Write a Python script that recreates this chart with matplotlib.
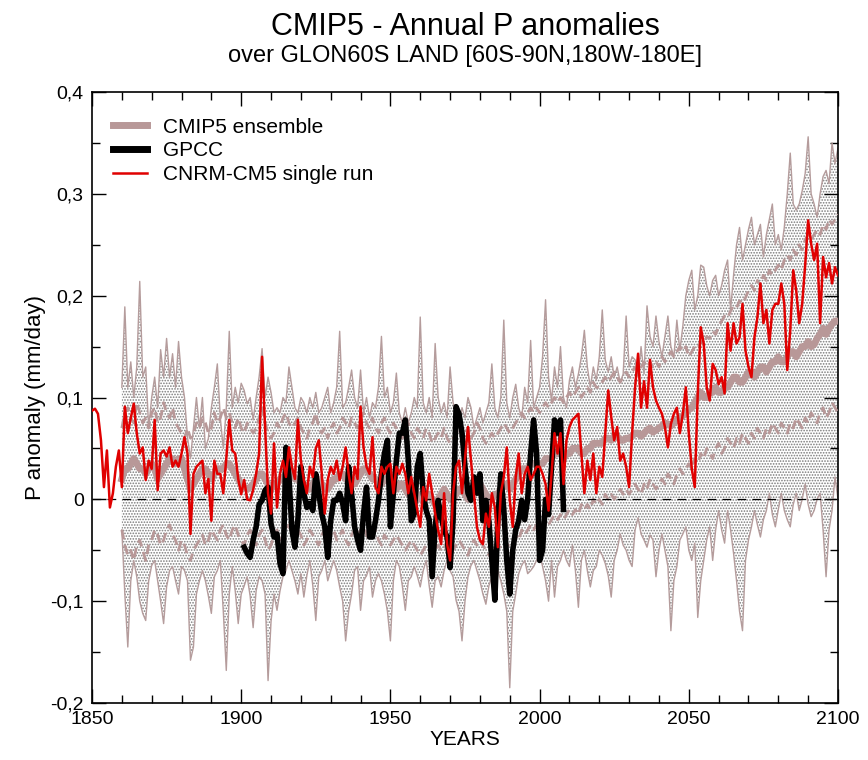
import numpy as np
import matplotlib
matplotlib.use('Agg')
import matplotlib.pyplot as plt
from matplotlib.ticker import MultipleLocator, FuncFormatter

plt.rcParams['font.family'] = ['Liberation Sans', 'DejaVu Sans']
plt.rcParams['hatch.linewidth'] = 0.8

# CNRM-CM5 single run, 1850-2100 (mm/day)
cnrm = [
    0.087, 0.089, 0.084, 0.058, 0.012, 0.048, -0.008, 0.006, 0.032, 0.048,
    0.012, 0.091, 0.065, 0.080, 0.094, 0.065, 0.045, 0.051, 0.019, 0.038,
    0.030, 0.078, 0.009, 0.045, 0.048, 0.042, 0.051, 0.032, 0.038, 0.032,
    0.045, 0.061, 0.045, -0.034, 0.025, 0.032, 0.035, 0.038, 0.006, 0.020,
    -0.021, 0.038, 0.025, 0.025, 0.006, 0.040, 0.078, 0.048, 0.045, 0.020,
    0.005, 0.019, 0.000, -0.001, 0.009, 0.025, 0.045, 0.140, 0.071, 0.006,
    -0.014, 0.055, -0.008, 0.025, 0.038, 0.022, 0.051, 0.032, 0.020, 0.078,
    0.038, 0.019, 0.006, 0.032, 0.022, 0.050, 0.058, 0.025, -0.014, 0.019,
    0.032, 0.025, 0.038, 0.019, 0.032, 0.051, 0.025, 0.006, 0.032, 0.020,
    0.091, 0.051, 0.032, 0.025, 0.061, 0.012, 0.006, 0.032, 0.025, 0.032,
    0.035, 0.006, 0.032, 0.025, 0.035, 0.025, 0.006, 0.022, 0.006, -0.010,
    -0.027, 0.012, -0.001, 0.025, 0.006, -0.014, -0.030, -0.044, 0.006, -0.044,
    -0.060, 0.006, 0.032, 0.038, 0.006, 0.040, 0.071, 0.038, 0.006, -0.027,
    -0.040, -0.044, -0.014, -0.027, 0.006, -0.008, -0.047, 0.006, 0.022, 0.051,
    -0.001, -0.027, 0.022, 0.045, 0.006, 0.025, 0.032, 0.019, 0.025, 0.032,
    0.032, 0.025, 0.015, -0.011, 0.025, 0.065, 0.045, 0.065, 0.015, 0.058,
    0.071, 0.078, 0.081, 0.084, 0.045, 0.006, 0.038, 0.019, 0.045, 0.006,
    0.032, 0.022, 0.065, 0.107, 0.081, 0.058, 0.071, 0.038, 0.045, 0.032,
    0.012, 0.065, 0.110, 0.143, 0.090, 0.116, 0.090, 0.137, 0.110, 0.097,
    0.090, 0.084, 0.071, 0.051, 0.074, 0.084, 0.090, 0.065, 0.084, 0.110,
    0.065, 0.030, 0.012, 0.104, 0.169, 0.153, 0.110, 0.097, 0.133, 0.127,
    0.113, 0.120, 0.104, 0.173, 0.146, 0.173, 0.153, 0.159, 0.192, 0.146,
    0.130, 0.120, 0.159, 0.179, 0.212, 0.173, 0.186, 0.153, 0.186, 0.192,
    0.192, 0.212, 0.192, 0.127, 0.166, 0.225, 0.205, 0.173, 0.192, 0.230,
    0.274, 0.251, 0.235, 0.251, 0.173, 0.238, 0.218, 0.232, 0.212, 0.228,
    0.220]

# GPCC observations, 1901-2008
gpcc = [
    -0.047, -0.053, -0.057, -0.040, -0.027, -0.005, -0.001, 0.009, 0.012,
    -0.024, -0.037, -0.034, -0.063, -0.073, 0.051, 0.022, -0.030, -0.047, -0.020,
    0.032, 0.006, -0.008, -0.004, -0.011, 0.025, 0.006, -0.014, -0.027, -0.057,
    -0.021, -0.001, -0.001, 0.006, -0.004, -0.021, 0.032, 0.006, -0.027, -0.040,
    -0.050, -0.014, 0.012, -0.037, -0.037, -0.021, -0.001, 0.025, 0.045, 0.058,
    -0.027, 0.006, 0.038, 0.065, 0.065, 0.078, 0.038, -0.021, -0.014, 0.032,
    0.045, 0.006, -0.011, -0.020, -0.076, -0.027, -0.001, -0.017, -0.030, -0.037,
    -0.067, -0.021, 0.091, 0.084, 0.065, 0.032, 0.006, -0.001, 0.022, 0.006,
    0.025, -0.021, -0.001, -0.021, -0.060, -0.099, -0.020, 0.025, -0.010, -0.060,
    -0.093, -0.050, -0.030, -0.021, -0.001, -0.020, 0.000, 0.045, 0.078, 0.045,
    -0.060, -0.050, 0.000, -0.015, 0.032, 0.078, 0.065, 0.078, -0.010]

# CMIP5 ensemble, 1860-2100: mean, +/- spread (dashed), max / min envelope
ens_mean = [
    0.020, 0.030, 0.030, 0.035, 0.040, 0.035, 0.030, 0.030, 0.025, 0.030,
    0.035, 0.030, 0.020, 0.025, 0.030, 0.035, 0.040, 0.040, 0.035, 0.040,
    0.040, 0.030, 0.020, 0.010, 0.015, 0.020, 0.025, 0.030, 0.030, 0.025,
    0.020, 0.025, 0.030, 0.030, 0.030, 0.035, 0.035, 0.030, 0.025, 0.020,
    0.015, 0.012, 0.010, 0.012, 0.015, 0.020, 0.025, 0.025, 0.020, 0.015,
    0.010, 0.015, 0.015, 0.020, 0.020, 0.025, 0.030, 0.025, 0.020, 0.020,
    0.015, 0.015, 0.010, 0.010, 0.015, 0.020, 0.020, 0.015, 0.010, 0.010,
    0.015, 0.020, 0.020, 0.025, 0.025, 0.020, 0.020, 0.015, 0.015, 0.020,
    0.025, 0.030, 0.030, 0.025, 0.020, 0.020, 0.015, 0.015, 0.020, 0.020,
    0.015, 0.010, 0.010, 0.015, 0.015, 0.010, 0.005, 0.005, 0.010, 0.005,
    0.000, 0.000, 0.005, 0.005, 0.000, -0.005, 0.000, 0.005, 0.010, 0.005,
    0.000, 0.000, 0.005, 0.010, 0.010, 0.005, 0.000, 0.005, 0.010, 0.015,
    0.015, 0.010, 0.005, 0.000, 0.000, 0.005, 0.005, 0.010, 0.015, 0.015,
    0.010, 0.015, 0.020, 0.025, 0.030, 0.030, 0.030, 0.035, 0.035, 0.035,
    0.035, 0.035, 0.040, 0.040, 0.040, 0.045, 0.045, 0.045, 0.040, 0.045,
    0.045, 0.050, 0.050, 0.050, 0.045, 0.045, 0.050, 0.050, 0.055, 0.055,
    0.055, 0.055, 0.060, 0.060, 0.058, 0.062, 0.062, 0.058, 0.058, 0.060,
    0.060, 0.062, 0.065, 0.065, 0.062, 0.065, 0.068, 0.070, 0.066, 0.068,
    0.070, 0.072, 0.075, 0.074, 0.072, 0.075, 0.078, 0.080, 0.082, 0.085,
    0.088, 0.090, 0.095, 0.100, 0.105, 0.100, 0.100, 0.105, 0.105, 0.110,
    0.105, 0.105, 0.110, 0.110, 0.115, 0.120, 0.120, 0.115, 0.115, 0.120,
    0.125, 0.125, 0.120, 0.125, 0.130, 0.130, 0.125, 0.130, 0.135, 0.135,
    0.140, 0.135, 0.135, 0.140, 0.145, 0.145, 0.140, 0.145, 0.150, 0.150,
    0.155, 0.150, 0.152, 0.158, 0.162, 0.168, 0.162, 0.168, 0.172, 0.175,
    0.175]

ens_hi = [
    0.070, 0.085, 0.090, 0.080, 0.075, 0.095, 0.085, 0.075, 0.080, 0.070,
    0.085, 0.090, 0.075, 0.080, 0.095, 0.085, 0.080, 0.090, 0.075, 0.070,
    0.065, 0.060, 0.070, 0.060, 0.065, 0.075, 0.070, 0.080, 0.075, 0.065,
    0.070, 0.085, 0.075, 0.080, 0.090, 0.080, 0.085, 0.075, 0.070, 0.080,
    0.070, 0.065, 0.075, 0.070, 0.065, 0.070, 0.080, 0.090, 0.075, 0.065,
    0.060, 0.065, 0.075, 0.070, 0.080, 0.085, 0.075, 0.070, 0.075, 0.080,
    0.070, 0.065, 0.060, 0.070, 0.075, 0.085, 0.070, 0.065, 0.070, 0.060,
    0.070, 0.075, 0.065, 0.070, 0.080, 0.075, 0.070, 0.080, 0.075, 0.070,
    0.080, 0.085, 0.075, 0.070, 0.080, 0.070, 0.065, 0.075, 0.080, 0.070,
    0.065, 0.075, 0.070, 0.065, 0.060, 0.070, 0.075, 0.065, 0.060, 0.070,
    0.065, 0.060, 0.070, 0.065, 0.055, 0.060, 0.065, 0.060, 0.070, 0.060,
    0.055, 0.060, 0.065, 0.070, 0.060, 0.065, 0.070, 0.060, 0.065, 0.075,
    0.070, 0.060, 0.055, 0.060, 0.065, 0.060, 0.065, 0.070, 0.075, 0.070,
    0.065, 0.070, 0.075, 0.080, 0.085, 0.080, 0.085, 0.090, 0.085, 0.090,
    0.085, 0.090, 0.095, 0.090, 0.095, 0.100, 0.095, 0.100, 0.095, 0.100,
    0.105, 0.100, 0.105, 0.110, 0.100, 0.105, 0.110, 0.105, 0.115, 0.110,
    0.110, 0.115, 0.120, 0.115, 0.120, 0.125, 0.120, 0.115, 0.120, 0.125,
    0.120, 0.125, 0.130, 0.125, 0.130, 0.135, 0.130, 0.135, 0.130, 0.135,
    0.130, 0.140, 0.135, 0.140, 0.145, 0.140, 0.145, 0.150, 0.145, 0.150,
    0.140, 0.145, 0.150, 0.148, 0.155, 0.152, 0.160, 0.158, 0.165, 0.162,
    0.170, 0.175, 0.180, 0.178, 0.185, 0.190, 0.188, 0.195, 0.192, 0.198,
    0.205, 0.210, 0.205, 0.215, 0.210, 0.220, 0.215, 0.225, 0.220, 0.225,
    0.230, 0.225, 0.235, 0.240, 0.235, 0.245, 0.240, 0.250, 0.245, 0.255,
    0.260, 0.255, 0.260, 0.265, 0.260, 0.270, 0.265, 0.275, 0.270, 0.275,
    0.280]

ens_lo = [
    -0.030, -0.045, -0.055, -0.050, -0.060, -0.045, -0.040, -0.050, -0.060, -0.045,
    -0.040, -0.030, -0.035, -0.045, -0.040, -0.030, -0.025, -0.035, -0.040, -0.050,
    -0.040, -0.045, -0.055, -0.060, -0.050, -0.045, -0.040, -0.035, -0.045, -0.040,
    -0.030, -0.035, -0.040, -0.030, -0.025, -0.035, -0.040, -0.030, -0.025, -0.035,
    -0.040, -0.045, -0.035, -0.030, -0.040, -0.045, -0.035, -0.030, -0.040, -0.050,
    -0.045, -0.035, -0.030, -0.040, -0.035, -0.030, -0.025, -0.035, -0.040, -0.030,
    -0.035, -0.045, -0.040, -0.030, -0.035, -0.040, -0.045, -0.035, -0.030, -0.040,
    -0.035, -0.030, -0.040, -0.035, -0.030, -0.040, -0.045, -0.035, -0.030, -0.035,
    -0.030, -0.025, -0.035, -0.040, -0.035, -0.030, -0.040, -0.045, -0.035, -0.040,
    -0.045, -0.040, -0.035, -0.040, -0.045, -0.050, -0.045, -0.040, -0.045, -0.050,
    -0.055, -0.050, -0.045, -0.050, -0.055, -0.050, -0.045, -0.050, -0.045, -0.050,
    -0.055, -0.050, -0.045, -0.040, -0.045, -0.050, -0.055, -0.045, -0.040, -0.045,
    -0.040, -0.045, -0.050, -0.055, -0.050, -0.045, -0.050, -0.045, -0.040, -0.045,
    -0.045, -0.040, -0.035, -0.040, -0.030, -0.035, -0.030, -0.025, -0.030, -0.025,
    -0.030, -0.025, -0.020, -0.025, -0.020, -0.015, -0.020, -0.015, -0.020, -0.015,
    -0.010, -0.015, -0.010, -0.015, -0.005, -0.010, -0.005, -0.010, 0.000, -0.005,
    0.000, -0.005, 0.005, 0.000, 0.005, 0.000, 0.005, 0.010, 0.005, 0.010,
    0.005, 0.010, 0.015, 0.010, 0.005, 0.015, 0.010, 0.020, 0.015, 0.010,
    0.015, 0.020, 0.015, 0.025, 0.020, 0.015, 0.025, 0.030, 0.025, 0.030,
    0.035, 0.030, 0.040, 0.035, 0.045, 0.040, 0.050, 0.045, 0.040, 0.050,
    0.055, 0.045, 0.050, 0.060, 0.055, 0.050, 0.060, 0.055, 0.065, 0.060,
    0.055, 0.065, 0.060, 0.070, 0.065, 0.060, 0.070, 0.065, 0.075, 0.070,
    0.065, 0.075, 0.070, 0.065, 0.075, 0.070, 0.080, 0.075, 0.070, 0.080,
    0.075, 0.085, 0.080, 0.075, 0.085, 0.090, 0.080, 0.085, 0.095, 0.090,
    0.085]

ens_max = [
    0.110, 0.189, 0.110, 0.135, 0.100, 0.130, 0.214, 0.120, 0.130, 0.070,
    0.100, 0.120, 0.090, 0.147, 0.120, 0.158, 0.120, 0.143, 0.110, 0.155,
    0.120, 0.100, 0.061, 0.040, 0.070, 0.100, 0.070, 0.100, 0.050, 0.060,
    0.090, 0.110, 0.133, 0.080, 0.050, 0.090, 0.165, 0.090, 0.110, 0.095,
    0.114, 0.107, 0.094, 0.100, 0.078, 0.100, 0.120, 0.148, 0.100, 0.120,
    0.105, 0.085, 0.090, 0.085, 0.100, 0.095, 0.130, 0.110, 0.090, 0.085,
    0.100, 0.095, 0.085, 0.100, 0.090, 0.105, 0.085, 0.090, 0.100, 0.110,
    0.085, 0.095, 0.110, 0.165, 0.090, 0.095, 0.110, 0.127, 0.100, 0.090,
    0.127, 0.085, 0.100, 0.080, 0.095, 0.090, 0.110, 0.160, 0.100, 0.110,
    0.085, 0.095, 0.124, 0.085, 0.075, 0.090, 0.075, 0.085, 0.100, 0.090,
    0.179, 0.095, 0.085, 0.100, 0.080, 0.153, 0.100, 0.085, 0.095, 0.080,
    0.130, 0.095, 0.085, 0.075, 0.090, 0.080, 0.100, 0.090, 0.070, 0.080,
    0.090, 0.075, 0.085, 0.095, 0.133, 0.090, 0.080, 0.100, 0.176, 0.095,
    0.080, 0.100, 0.113, 0.090, 0.080, 0.110, 0.095, 0.156, 0.090, 0.100,
    0.110, 0.140, 0.196, 0.120, 0.097, 0.130, 0.110, 0.150, 0.100, 0.090,
    0.117, 0.130, 0.110, 0.123, 0.140, 0.166, 0.130, 0.110, 0.130, 0.117,
    0.140, 0.186, 0.137, 0.125, 0.140, 0.120, 0.130, 0.115, 0.123, 0.180,
    0.130, 0.140, 0.137, 0.120, 0.150, 0.123, 0.190, 0.160, 0.150, 0.180,
    0.155, 0.140, 0.160, 0.180, 0.150, 0.140, 0.176, 0.146, 0.170, 0.200,
    0.215, 0.225, 0.186, 0.200, 0.230, 0.228, 0.210, 0.200, 0.215, 0.220,
    0.200, 0.210, 0.225, 0.235, 0.186, 0.220, 0.250, 0.267, 0.235, 0.250,
    0.265, 0.277, 0.250, 0.260, 0.270, 0.238, 0.260, 0.275, 0.290, 0.250,
    0.260, 0.245, 0.267, 0.300, 0.340, 0.290, 0.284, 0.290, 0.303, 0.320,
    0.356, 0.300, 0.290, 0.277, 0.300, 0.317, 0.323, 0.310, 0.350, 0.330,
    0.345]

ens_min = [
    -0.030, -0.093, -0.145, -0.080, -0.060, -0.076, -0.100, -0.112, -0.119, -0.080,
    -0.065, -0.060, -0.080, -0.100, -0.122, -0.086, -0.070, -0.066, -0.080, -0.093,
    -0.066, -0.070, -0.080, -0.158, -0.145, -0.093, -0.080, -0.070, -0.080, -0.095,
    -0.112, -0.076, -0.070, -0.060, -0.110, -0.168, -0.093, -0.066, -0.090, -0.122,
    -0.093, -0.085, -0.076, -0.095, -0.126, -0.090, -0.076, -0.080, -0.093, -0.178,
    -0.120, -0.093, -0.109, -0.090, -0.076, -0.070, -0.060, -0.070, -0.080, -0.093,
    -0.073, -0.096, -0.075, -0.060, -0.085, -0.119, -0.076, -0.070, -0.060, -0.080,
    -0.070, -0.060, -0.070, -0.086, -0.100, -0.139, -0.110, -0.093, -0.070, -0.066,
    -0.109, -0.080, -0.075, -0.066, -0.096, -0.080, -0.073, -0.080, -0.093, -0.110,
    -0.139, -0.080, -0.060, -0.066, -0.085, -0.109, -0.080, -0.076, -0.066, -0.075,
    -0.086, -0.070, -0.060, -0.085, -0.106, -0.080, -0.076, -0.086, -0.070, -0.060,
    -0.070, -0.076, -0.099, -0.110, -0.139, -0.100, -0.076, -0.065, -0.060, -0.070,
    -0.080, -0.093, -0.103, -0.085, -0.076, -0.060, -0.070, -0.080, -0.093, -0.110,
    -0.185, -0.110, -0.093, -0.073, -0.065, -0.060, -0.073, -0.070, -0.066, -0.060,
    -0.053, -0.066, -0.080, -0.100, -0.060, -0.096, -0.066, -0.060, -0.050, -0.060,
    -0.066, -0.045, -0.070, -0.106, -0.060, -0.050, -0.070, -0.086, -0.070, -0.066,
    -0.050, -0.055, -0.063, -0.075, -0.096, -0.060, -0.050, -0.034, -0.045, -0.050,
    -0.060, -0.066, -0.030, -0.018, -0.034, -0.040, -0.047, -0.035, -0.040, -0.076,
    -0.050, -0.034, -0.050, -0.066, -0.129, -0.080, -0.066, -0.040, -0.034, -0.027,
    -0.050, -0.060, -0.043, -0.116, -0.080, -0.060, -0.040, -0.027, -0.060, -0.030,
    -0.011, -0.030, -0.043, -0.011, -0.030, -0.053, -0.080, -0.110, -0.129, -0.060,
    -0.040, -0.027, -0.011, -0.025, -0.037, -0.020, -0.011, 0.006, -0.015, -0.027,
    -0.010, 0.006, -0.011, -0.020, -0.027, -0.005, 0.006, -0.011, 0.000, 0.015,
    -0.005, -0.017, -0.011, 0.000, 0.006, -0.030, -0.076, -0.030, -0.011, 0.022,
    0.000]

yrs_cnrm = 1850 + np.arange(len(cnrm))
yrs_gpcc = 1901 + np.arange(len(gpcc))
yrs_ens = 1860 + np.arange(len(ens_mean))

rosy = '#b89898'
env_col = '#b59c9c'

fig = plt.figure(figsize=(8.68, 7.6), dpi=100)
ax = fig.add_axes([92/868, 57/760, 746/868, 611/760])

# stippled spread between the min and max members
ax.fill_between(yrs_ens, ens_min, ens_max, facecolor='white',
                edgecolor='#7a7a7a', hatch='......', linewidth=0, zorder=1)
ax.plot(yrs_ens, ens_max, color=env_col, lw=1.0, zorder=2)
ax.plot(yrs_ens, ens_min, color=env_col, lw=1.0, zorder=2)
ax.plot(yrs_ens, ens_hi, color=rosy, lw=2.0, dashes=(3.5, 2), zorder=3)
ax.plot(yrs_ens, ens_lo, color=rosy, lw=2.0, dashes=(3.5, 2), zorder=3)
ax.plot(yrs_ens, ens_mean, color=rosy, lw=5, label='CMIP5 ensemble', zorder=4)

ax.axhline(0, color='black', lw=0.9, dashes=(7, 5), zorder=4.5)

ax.plot(yrs_gpcc, gpcc, color='black', lw=4, label='GPCC', zorder=5)
ax.plot(yrs_cnrm, cnrm, color='#e00000', lw=1.8, label='CNRM-CM5 single run', zorder=6)

ax.set_xlim(1850, 2100)
ax.set_ylim(-0.2, 0.4)
ax.xaxis.set_major_locator(MultipleLocator(50))
ax.xaxis.set_minor_locator(MultipleLocator(10))
ax.yaxis.set_major_locator(MultipleLocator(0.1))
ax.yaxis.set_minor_locator(MultipleLocator(0.05))
ax.yaxis.set_major_formatter(FuncFormatter(lambda v, p: ('%g' % round(v, 2)).replace('.', ',')))
ax.tick_params(which='both', direction='in', top=True, right=True, width=1)
ax.tick_params(which='major', length=10, labelsize=14, pad=6)
ax.tick_params(which='minor', length=5.5)
for s in ax.spines.values():
    s.set_linewidth(1.2)

ax.set_xlabel('YEARS', fontsize=15, labelpad=1)
ax.set_ylabel('P anomaly (mm/day)', fontsize=16, labelpad=3)

leg = ax.legend(loc='upper left', bbox_to_anchor=(0.028, 0.958), frameon=False,
                fontsize=15, handlelength=1.65, handletextpad=0.75,
                labelspacing=0.22, borderpad=0, borderaxespad=0)
leg.get_lines()[0].set_linewidth(5)
leg.get_lines()[1].set_linewidth(5)

fig.text(0.536, 1 - 35/760, 'CMIP5 - Annual P anomalies', ha='center', va='baseline', fontsize=22)
fig.text(0.536, 1 - 62/760, 'over GLON60S LAND [60S-90N,180W-180E]', ha='center', va='baseline', fontsize=17)

fig.savefig('out.png', dpi=100)
